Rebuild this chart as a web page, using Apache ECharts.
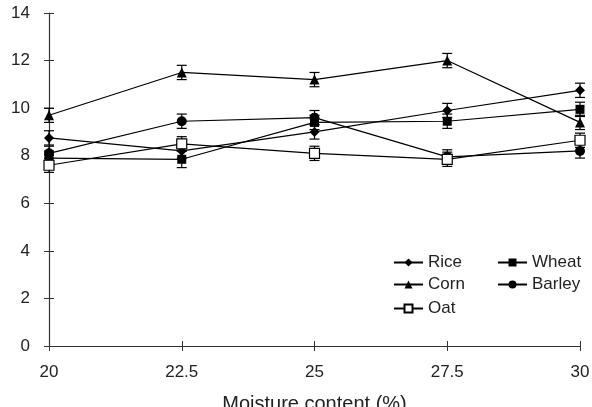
<!DOCTYPE html>
<html><head><meta charset="utf-8">
<script src="https://cdn.jsdelivr.net/npm/echarts@6/dist/echarts.min.js"></script>
<style>html,body{margin:0;padding:0;background:#fff}#c{width:592px;height:407px}</style>
</head><body><div id="c"></div>
<script>
var moisture = [20, 22.5, 25, 27.5, 30];
var rice   = [8.75, 8.2, 9.0, 9.9, 10.75];
var wheat  = [7.9, 7.85, 9.4, 9.45, 9.95];
var corn   = [9.7, 11.5, 11.2, 12.0, 9.4];
var barley = [8.1, 9.45, 9.6, 7.95, 8.2];
var oat    = [7.6, 8.5, 8.1, 7.85, 8.65];
var riceErr   = [0.3, 0.3, 0.3, 0.3, 0.3];
var wheatErr  = [0.3, 0.35, 0.3, 0.3, 0.3];
var cornErr   = [0.3, 0.3, 0.3, 0.3, 0.3];
var barleyErr = [0.3, 0.3, 0.3, 0.3, 0.3];
var oatErr    = [0.3, 0.3, 0.3, 0.3, 0.3];
var yTicks = [0, 2, 4, 6, 8, 10, 12, 14];
var xTicks = [20, 22.5, 25, 27.5, 30];

var names = ['Rice', 'Wheat', 'Corn', 'Barley', 'Oat'];
var vals = [rice, wheat, corn, barley, oat];
var errs = [riceErr, wheatErr, cornErr, barleyErr, oatErr];
var symbols = ['diamond', 'rect', 'triangle', 'circle', 'rect'];
var sizes = [10, 9, 10, 10, 10];
var fills = ['#000', '#000', '#000', '#000', '#fff'];

var series = [];
names.forEach(function (n, i) {
  series.push({
    type: 'custom', name: n + ' err', silent: true, z: 1,
    data: moisture.map(function (x, j) { return [x, vals[i][j] - errs[i][j], vals[i][j] + errs[i][j]]; }),
    renderItem: function (params, api) {
      var lo = api.coord([api.value(0), api.value(1)]);
      var hi = api.coord([api.value(0), api.value(2)]);
      var w = 5;
      var st = { stroke: '#000', lineWidth: 1.2 };
      return { type: 'group', children: [
        { type: 'line', shape: { x1: lo[0], y1: lo[1], x2: hi[0], y2: hi[1] }, style: st },
        { type: 'line', shape: { x1: lo[0] - w, y1: lo[1], x2: lo[0] + w, y2: lo[1] }, style: st },
        { type: 'line', shape: { x1: hi[0] - w, y1: hi[1], x2: hi[0] + w, y2: hi[1] }, style: st }
      ]};
    }
  });
  series.push({
    type: 'line', name: n, z: 3,
    data: moisture.map(function (x, j) { return [x, vals[i][j]]; }),
    symbol: symbols[i], symbolSize: sizes[i], showAllSymbol: true,
    lineStyle: { color: '#000', width: 1.2 },
    itemStyle: { color: fills[i], borderColor: '#000', borderWidth: i === 4 ? 1.2 : 0 },
    emphasis: { disabled: true }, animation: false
  });
});

var legendPos = [
  { name: 'Rice', left: 393, top: 254 },
  { name: 'Wheat', left: 497, top: 254 },
  { name: 'Corn', left: 393, top: 276 },
  { name: 'Barley', left: 497, top: 276 },
  { name: 'Oat', left: 393, top: 300 }
];
var legends = legendPos.map(function (p) {
  return { data: [p.name], left: p.left, top: p.top, padding: 0, itemWidth: 29, itemHeight: 10, itemGap: 0,
    textStyle: { fontFamily: 'Liberation Sans, Arial', fontSize: 17, color: '#222' },
    selectedMode: false };
});

var lblFont = { fontFamily: 'Liberation Sans, Arial', fontSize: 17, color: '#222' };

var chart = echarts.init(document.getElementById('c'), null, { renderer: 'canvas' });
chart.setOption({
  animation: false,
  backgroundColor: '#fff',
  legend: legends,
  grid: { left: 49, right: 12, top: 13, bottom: 61, containLabel: false, outerBoundsMode: 'none' },
  xAxis: [{
    type: 'value', min: 20, max: 30, interval: 2.5,
    name: 'Moisture content (%)', nameLocation: 'middle', nameGap: 48,
    nameTextStyle: { fontFamily: 'Liberation Sans, Arial', fontSize: 20, color: '#222', verticalAlign: 'top' },
    axisLine: { lineStyle: { color: '#333', width: 1.2 } },
    axisTick: { show: true, length: 5, lineStyle: { color: '#333' } },
    axisLabel: Object.assign({ margin: 18,
      formatter: function (v) { return xTicks.indexOf(v) >= 0 ? String(v) : ''; } }, lblFont),
    splitLine: { show: false }
  }, {
    type: 'value', min: 20, max: 30, interval: 2.5, position: 'bottom',
    axisLine: { show: false },
    axisTick: { show: true, inside: true, length: 5, lineStyle: { color: '#333' } },
    axisLabel: { show: false }, splitLine: { show: false }
  }],
  yAxis: [{
    type: 'value', min: 0, max: 14, interval: 2,
    axisLine: { show: true, lineStyle: { color: '#333', width: 1.2 } },
    axisTick: { show: true, length: 5, lineStyle: { color: '#333' } },
    axisLabel: Object.assign({ margin: 19,
      formatter: function (v) { return yTicks.indexOf(v) >= 0 ? String(v) : ''; } }, lblFont),
    splitLine: { show: false }
  }, {
    type: 'value', min: 0, max: 14, interval: 2, position: 'left',
    axisLine: { show: false },
    axisTick: { show: true, inside: true, length: 5, lineStyle: { color: '#333' } },
    axisLabel: { show: false }, splitLine: { show: false }
  }],
  series: series
});
</script></body></html>
